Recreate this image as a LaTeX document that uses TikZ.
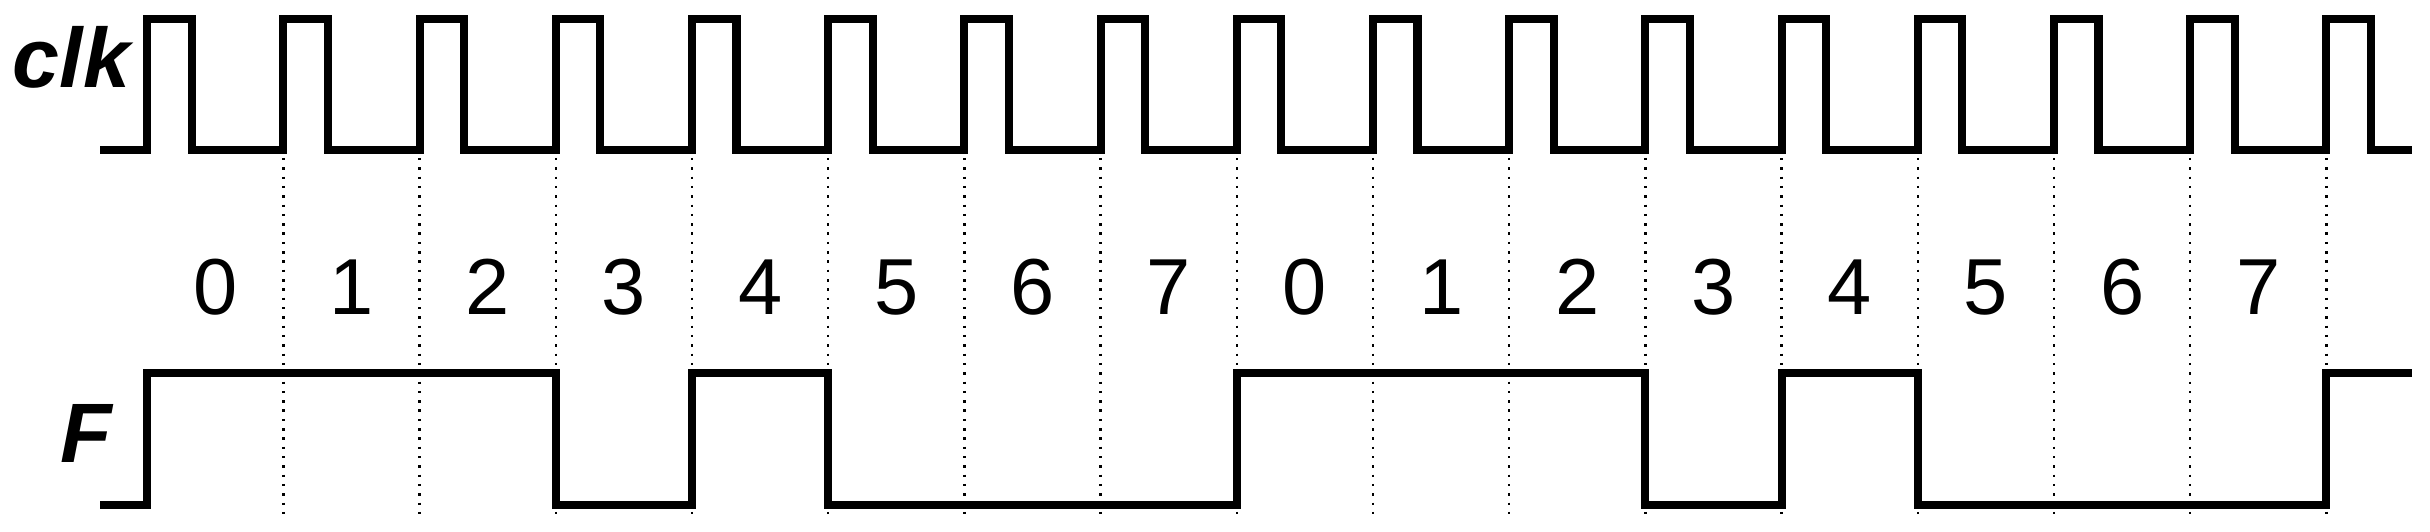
\documentclass[tikz,border=0pt]{standalone}
\usepackage{fontspec}
\setmainfont{Liberation Sans}
\usepackage{tikz}
\tikzstyle{wave}=[line width=2.3pt,line join=miter]
\tikzstyle{tick}=[line width=0.7pt,dash pattern=on 0.7pt off 1.95pt]
\tikzstyle{sig}=[inner sep=0pt,anchor=base west,font=\fontsize{24}{28}\selectfont\bfseries\itshape]
\tikzstyle{num}=[inner sep=0pt,anchor=base,font=\fontsize{22.6}{26}\selectfont]

\begin{document}
\begin{tikzpicture}
  \useasboundingbox (0,0) rectangle (24.30,5.32);

  % labels
  \node[sig] (clk) at (0.12,4.44) {clk};
  \node[sig] (F) at (0.60,0.69) {F};

  % clock
  \draw[wave] (1.00,3.82) \foreach \k in {0,...,16}{ -- ({1.472+1.362*\k},3.82) -- ++(0,1.31) -- ++(0.445,0) -- ++(0,-1.31)} -- (24.12,3.82);

  % dotted lines at the rising edges
  \foreach \k in {1,...,16} \draw[tick] ({1.472+1.362*\k},3.74) -- ++(0,-3.59);

  % counter values
  \foreach \k in {0,...,15}{
    \pgfmathtruncatemacro\d{mod(\k,8)}
    \node[num] (n\k) at ({2.153+1.362*\k},2.17) {\d};
  }

  % output F
  \draw[wave] (1.00,0.27) -- (1.472,0.27) -- (1.472,1.59) -- (5.558,1.59) -- (5.558,0.27) -- (6.920,0.27) -- (6.920,1.59) -- (8.282,1.59) -- (8.282,0.27)
    -- (12.368,0.27) -- (12.368,1.59) -- (16.454,1.59) -- (16.454,0.27) -- (17.816,0.27) -- (17.816,1.59) -- (19.178,1.59) -- (19.178,0.27)
    -- (23.264,0.27) -- (23.264,1.59) -- (24.12,1.59);

\end{tikzpicture}
\end{document}
